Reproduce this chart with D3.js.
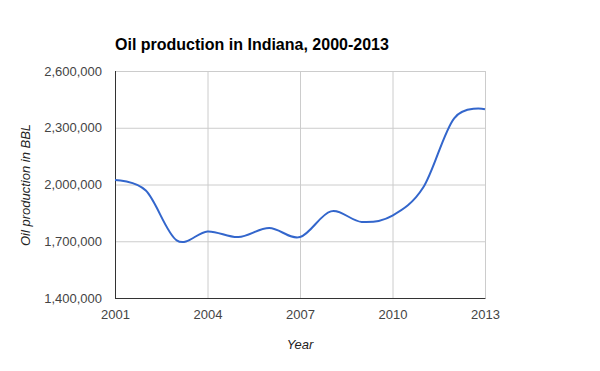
<!DOCTYPE html>
<html><head><meta charset="utf-8">
<script src="https://cdn.jsdelivr.net/npm/d3@7"></script>
<style>body{margin:0;background:#fff}svg{display:block}text{font-family:"Liberation Sans",Arial,sans-serif}</style>
</head><body><svg width="600" height="371"></svg>
<script>
const years = [2001,2002,2003,2004,2005,2006,2007,2008,2009,2010,2011,2012,2013];
const production = [2024000,1968000,1705000,1752000,1722000,1770000,1722000,1858000,1802000,1836000,1985000,2350000,2398000];
const yTicks = [1400000,1700000,2000000,2300000,2600000];
const xTicks = [2001,2004,2007,2010,2013];

const svg = d3.select("svg");
const L=115,R=485,T=71,B=298;
const x = d3.scaleLinear().domain([2001,2013]).range([L,R]);
const y = d3.scaleLinear().domain([1400000,2600000]).range([B,T]);

svg.append("text").attr("x",L).attr("y",50).attr("font-size",16).attr("font-weight","bold").attr("fill","#000").text("Oil production in Indiana, 2000-2013");

const g = svg.append("g");
g.selectAll(".hg").data(yTicks).join("line").attr("x1",L).attr("x2",R).attr("y1",d=>y(d)+0.5).attr("y2",d=>y(d)+0.5).attr("stroke","#ccc");
g.selectAll(".vg").data(xTicks).join("line").attr("y1",T).attr("y2",B).attr("x1",d=>x(d)+0.5).attr("x2",d=>x(d)+0.5).attr("stroke","#ccc");

const yAxis = d3.axisLeft(y).tickValues(yTicks).tickSize(0).tickPadding(13).tickFormat(d3.format(","));
const ya = svg.append("g").attr("transform",`translate(${L},0)`).call(yAxis);
ya.select(".domain").remove();
ya.selectAll("text").attr("font-size",13).attr("fill","#444").attr("font-family","Liberation Sans, Arial, sans-serif");

const xAxis = d3.axisBottom(x).tickValues(xTicks).tickSize(0).tickPadding(12).tickFormat(d3.format("d"));
const xa = svg.append("g").attr("transform",`translate(0,${B})`).call(xAxis);
xa.select(".domain").remove();
xa.selectAll("text").attr("font-size",13).attr("fill","#444").attr("font-family","Liberation Sans, Arial, sans-serif");

svg.append("line").attr("x1",L).attr("x2",R+0.5).attr("y1",B+0.5).attr("y2",B+0.5).attr("stroke","#333");
svg.append("line").attr("x1",L+0.5).attr("x2",L+0.5).attr("y1",T).attr("y2",B+0.5).attr("stroke","#333");

const line = d3.line().x((d,i)=>x(years[i])).y(d=>y(d)).curve(d3.curveCardinal.tension(0));
svg.append("path").datum(production).attr("d",line).attr("fill","none").attr("stroke","#3366cc").attr("stroke-width",2);

svg.append("text").attr("x",300).attr("y",349).attr("text-anchor","middle").attr("font-size",13).attr("font-style","italic").attr("fill","#222").text("Year");
svg.append("text").attr("transform","translate(30,185) rotate(-90)").attr("text-anchor","middle").attr("font-size",13).attr("font-style","italic").attr("fill","#222").text("Oil production in BBL");
</script></body></html>
